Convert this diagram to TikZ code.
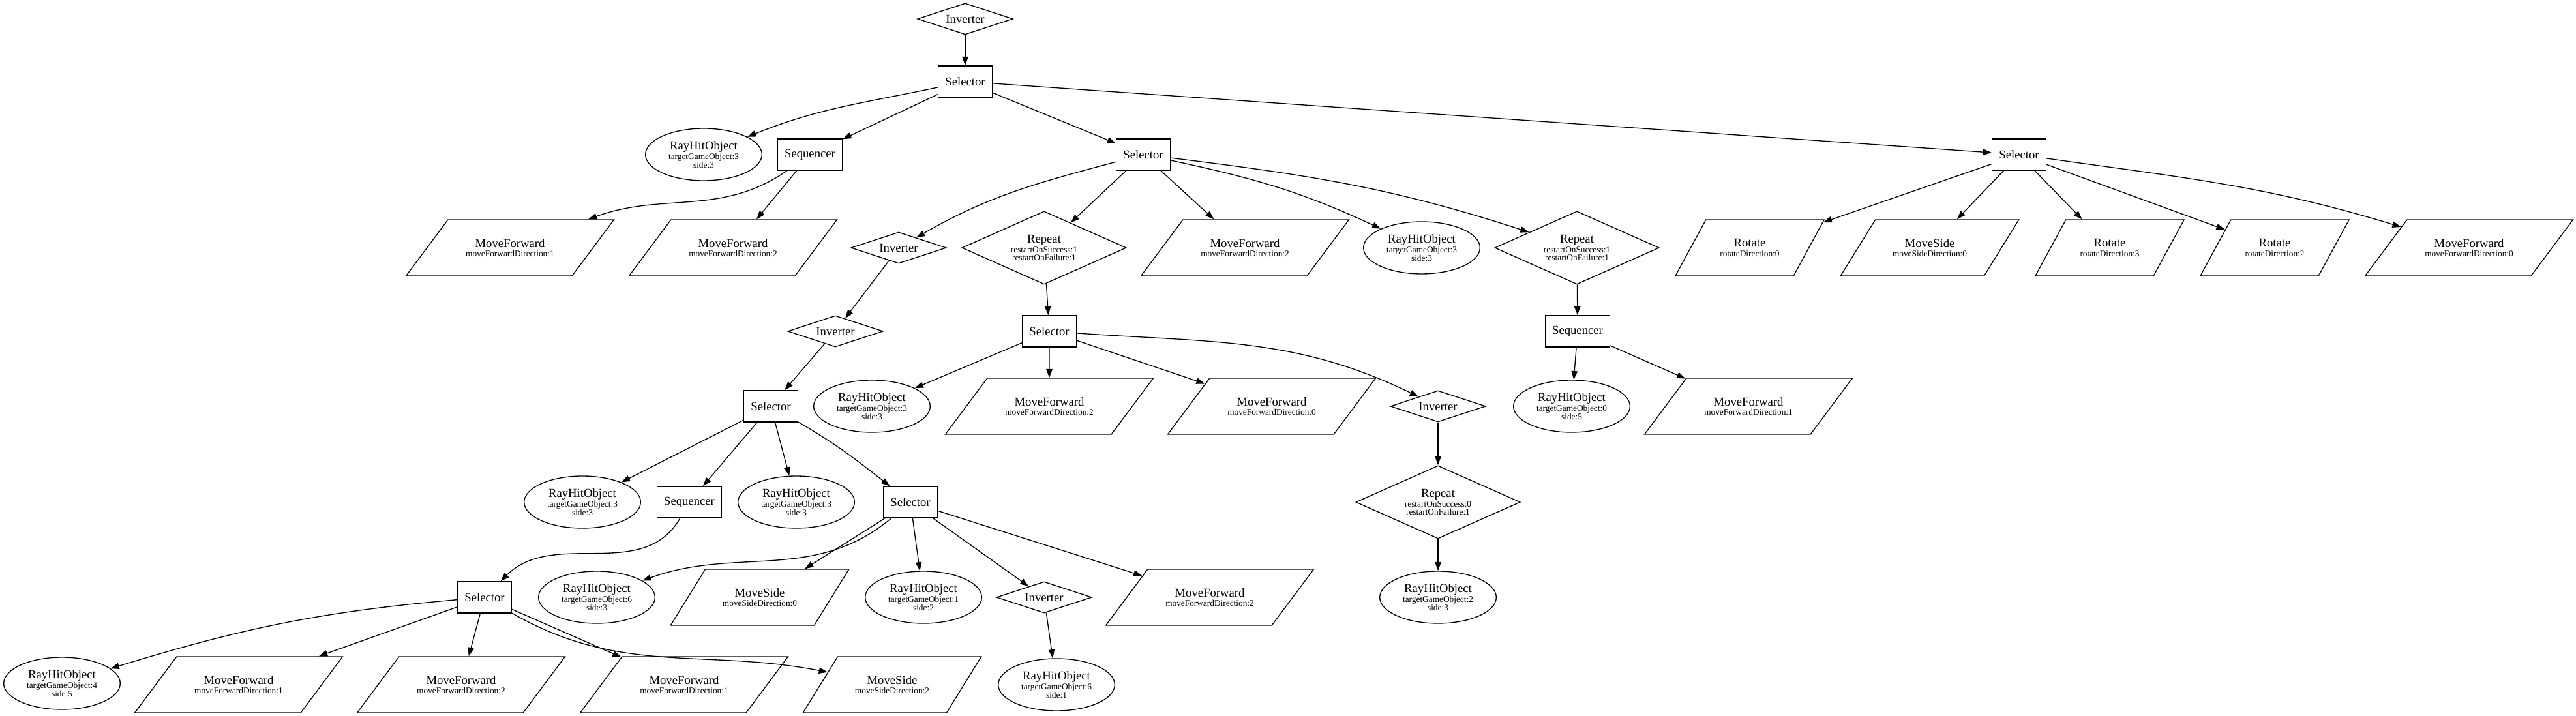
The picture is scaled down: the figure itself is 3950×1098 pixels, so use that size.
\documentclass[tikz,border=0pt]{standalone}
\usepackage{fontspec}
\setmainfont{Liberation Serif}
\usetikzlibrary{arrows.meta, shapes.geometric, positioning}
\tikzset{plain/.style = {
  draw=black, line width=1pt,
  text centered, align=center,
  font=\fontsize{14}{11}\selectfont
  }}
\tikzset{composite/.style = {
  % Rectangle:
  plain, rectangle,
  minimum width=54pt, minimum height=36pt,
  inner xsep=8pt
  }}
\tikzset{decorator/.style = {
  % Diamond:
  plain, diamond, aspect=2.5, inner sep=0pt
  }}
\tikzset{inverter/.style = {
  decorator,
  minimum width=109.5pt, minimum height=36pt
  }}
\tikzset{repeater/.style = {
  decorator,
  minimum width=189pt, minimum height=84pt
  }}
\tikzset{condition/.style = {
  % Ellipse:
  plain, ellipse, inner sep=0pt,
  minimum width=134pt, minimum height=60pt
  }}
\tikzset{action/.style = {
  % Parallelogram:
  plain, trapezium, trapezium stretches body,
  inner xsep=0pt, inner ysep=21.5pt, minimum height=64.5pt
  }}
\tikzset{fwd/.style = {
  action, minimum width=239pt,
  trapezium left angle=53, trapezium right angle=127
  }}
\tikzset{side/.style = {
  action, minimum width=205pt,
  trapezium left angle=58, trapezium right angle=122
  }}
\tikzset{turn/.style = {
  action, minimum width=171pt,
  trapezium left angle=61, trapezium right angle=119
  }}
\tikzset{link/.style = {
  ->,
  >={Triangle[length=10pt, width=7pt]},
  line width=1pt,
  draw=black
  }}
\newcommand{\param}[1]{{\fontsize{10}{10}\selectfont #1}}
\newcommand{\hitlabel}[2]{RayHitObject\\\param{targetGameObject:#1}\\[-1.5pt]\param{side:#2}}
\newcommand{\replabel}[2]{Repeat\\\param{restartOnSuccess:#1}\\[-1.5pt]\param{restartOnFailure:#2}}
\newcommand{\fwdlabel}[1]{MoveForward\\\param{moveForwardDirection:#1}}
\newcommand{\sidelabel}[1]{MoveSide\\\param{moveSideDirection:#1}}
\newcommand{\turnlabel}[1]{Rotate\\\param{rotateDirection:#1}}

\begin{document}
\begin{tikzpicture}[x=0.75pt, y=0.75pt]
\useasboundingbox (0,0) rectangle (3950,1098);

% NODES
\node (inv0) [inverter] at (1480,1069) {Inverter};
\node (sel0) [composite] at (1480,973) {Selector};

\node (ray1) [condition] at (1079,861) {\hitlabel{3}{3}};
\node (seq1) [composite] at (1242,861) {Sequencer};
\node (sel1) [composite] at (1753,861) {Selector};
\node (sel2) [composite] at (3096,861) {Selector};

\node (mf1) [fwd] at (782,718) {\fwdlabel{1}};
\node (mf2) [fwd] at (1124,718) {\fwdlabel{2}};
\node (inv1) [inverter] at (1378,718) {Inverter};
\node (rep1) [repeater] at (1601,718) {\replabel{1}{1}};
\node (mf3) [fwd] at (1909,718) {\fwdlabel{2}};
\node (ray2) [condition] at (2180,718) {\hitlabel{3}{3}};
\node (rep2) [repeater] at (2418,718) {\replabel{1}{1}};
\node (rot1) [turn] at (2683,718) {\turnlabel{0}};
\node (ms1) [side] at (2959,718) {\sidelabel{0}};
\node (rot2) [turn] at (3235,718) {\turnlabel{3}};
\node (rot3) [turn] at (3488,718) {\turnlabel{2}};
\node (mf4) [fwd] at (3786,718) {\fwdlabel{0}};

\node (inv2) [inverter] at (1281,590) {Inverter};
\node (sel3) [composite] at (1609,590) {Selector};
\node (seq2) [composite] at (2419,590) {Sequencer};

\node (sel4) [composite] at (1182,475) {Selector};
\node (ray3) [condition] at (1337,475) {\hitlabel{3}{3}};
\node (mf5) [fwd] at (1609,475) {\fwdlabel{2}};
\node (mf6) [fwd] at (1950,475) {\fwdlabel{0}};
\node (inv3) [inverter] at (2205,475) {Inverter};
\node (ray4) [condition] at (2410,475) {\hitlabel{0}{5}};
\node (mf7) [fwd] at (2681,475) {\fwdlabel{1}};

\node (ray5) [condition] at (893,328) {\hitlabel{3}{3}};
\node (seq3) [composite] at (1057,328) {Sequencer};
\node (ray6) [condition] at (1221,328) {\hitlabel{3}{3}};
\node (sel5) [composite] at (1396,328) {Selector};
\node (rep3) [repeater] at (2205,328) {\replabel{0}{1}};

\node (sel6) [composite] at (743,182) {Selector};
\node (ray7) [condition] at (915,182) {\hitlabel{6}{3}};
\node (ms2) [side] at (1165,182) {\sidelabel{0}};
\node (ray8) [condition] at (1416,182) {\hitlabel{1}{2}};
\node (inv4) [inverter] at (1601,182) {Inverter};
\node (mf8) [fwd] at (1855,182) {\fwdlabel{2}};
\node (ray9) [condition] at (2205,182) {\hitlabel{2}{3}};

\node (ray10) [condition] at (95,50) {\hitlabel{4}{5}};
\node (mf9) [fwd] at (366,48) {\fwdlabel{1}};
\node (mf10) [fwd] at (707,48) {\fwdlabel{2}};
\node (mf11) [fwd] at (1049,48) {\fwdlabel{1}};
\node (ms3) [side] at (1368,48) {\sidelabel{2}};
\node (ray11) [condition] at (1620,48) {\hitlabel{6}{1}};

% arrows
\draw [link] (inv0) -- (sel0);

\draw [link] (sel0) to[out=192, in=22] (ray1);
\draw [link] (sel0) -- (seq1);
\draw [link] (sel0) -- (sel1);
\draw [link] (sel0) -- (sel2);

\draw [link] (seq1) to[out=-145, in=20] (mf1);
\draw [link] (seq1) -- (mf2);

\draw [link] (sel1) to[out=195, in=30] (inv1);
\draw [link] (sel1) -- (rep1);
\draw [link] (sel1) -- (mf3);
\draw [link] (sel1) to[out=-12, in=155] (ray2);
\draw [link] (sel1) to[out=-7, in=162] (rep2);

\draw [link] (sel2) -- (rot1);
\draw [link] (sel2) -- (ms1);
\draw [link] (sel2) -- (rot2);
\draw [link] (sel2) -- (rot3);
\draw [link] (sel2) to[out=-8, in=163] (mf4);

\draw [link] (inv1) -- (inv2);
\draw [link] (inv2) -- (sel4);
\draw [link] (rep1) -- (sel3);
\draw [link] (rep2) -- (seq2);

\draw [link] (sel3) -- (ray3);
\draw [link] (sel3) -- (mf5);
\draw [link] (sel3) -- (mf6);
\draw [link] (sel3) to[out=-4, in=154] (inv3);

\draw [link] (seq2) -- (ray4);
\draw [link] (seq2) -- (mf7);
\draw [link] (inv3) -- (rep3);
\draw [link] (rep3) -- (ray9);

\draw [link] (sel4) -- (ray5);
\draw [link] (sel4) -- (seq3);
\draw [link] (sel4) -- (ray6);
\draw [link] (sel4) to[out=-30, in=142] (sel5);

\draw [link] (seq3) to[out=-120, in=45] (sel6);

\draw [link] (sel5) to[out=-140, in=20] (ray7);
\draw [link] (sel5) -- (ms2);
\draw [link] (sel5) -- (ray8);
\draw [link] (sel5) -- (inv4);
\draw [link] (sel5) -- (mf8);
\draw [link] (inv4) -- (ray11);

\draw [link] (sel6) to[out=185, in=17] (ray10);
\draw [link] (sel6) -- (mf9);
\draw [link] (sel6) -- (mf10);
\draw [link] (sel6) -- (mf11);
\draw [link] (sel6) to[out=-30, in=169] (ms3);
\end{tikzpicture}
\end{document}
